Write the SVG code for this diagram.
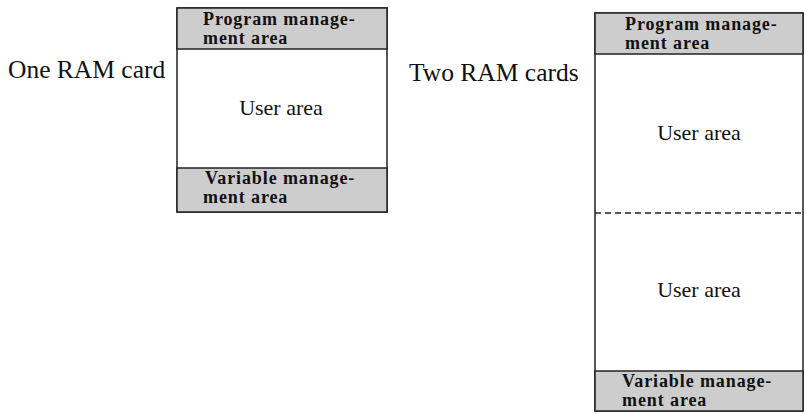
<svg xmlns="http://www.w3.org/2000/svg" width="806" height="414" viewBox="0 0 806 414">
<style>
.lbl{font-family:"Liberation Serif","Times New Roman",serif;font-size:25.5px;fill:#111}
.usr{font-family:"Liberation Serif","Times New Roman",serif;font-size:22px;fill:#111;text-anchor:middle}
.hdr{font-family:"Liberation Serif","Times New Roman",serif;font-size:18px;letter-spacing:0.9px;font-weight:bold;fill:#111}
.box{fill:#fff;stroke:#222;stroke-width:1.5}
.gray{fill:#cdcdcd;stroke:#222;stroke-width:1.5}
.dash{stroke:#222;stroke-width:1.3;stroke-dasharray:6,4;fill:none}
</style>
<rect width="806" height="414" fill="#fff"/>
<g id="label-one">
<text class="lbl" x="8" y="78">One RAM card</text>
</g>
<g id="card-one">
<rect class="box" x="177" y="8" width="210" height="204"/>
<rect class="gray" x="177" y="8" width="210" height="41"/>
<rect class="gray" x="177" y="168" width="210" height="44"/>
<text class="hdr" x="203" y="25">Program manage-</text>
<text class="hdr" x="203" y="44">ment area</text>
<text class="usr" x="281" y="115">User area</text>
<text class="hdr" x="205" y="184">Variable manage-</text>
<text class="hdr" x="203" y="203">ment area</text>
</g>
<g id="label-two">
<text class="lbl" x="409" y="81">Two RAM cards</text>
</g>
<g id="card-two">
<rect class="box" x="595" y="13" width="208" height="398"/>
<rect class="gray" x="595" y="13" width="208" height="41"/>
<rect class="gray" x="595" y="371" width="208" height="40"/>
<text class="hdr" x="625" y="30">Program manage-</text>
<text class="hdr" x="625" y="49">ment area</text>
<text class="usr" x="699" y="140">User area</text>
<line class="dash" x1="595" y1="213" x2="803" y2="213"/>
<text class="usr" x="699" y="297">User area</text>
<text class="hdr" x="622" y="387">Variable manage-</text>
<text class="hdr" x="622" y="406">ment area</text>
</g>
</svg>
